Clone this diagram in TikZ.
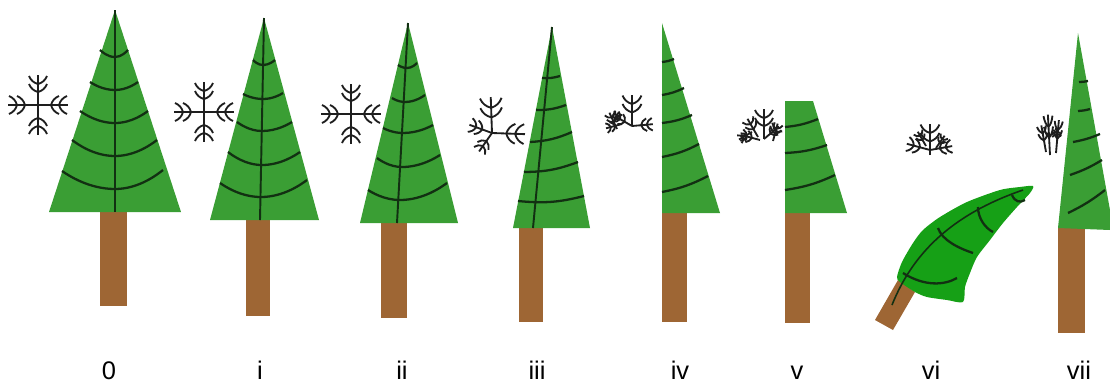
\documentclass[tikz,border=0pt]{standalone}
\usepackage{fontspec}
\setmainfont{Liberation Sans}
\definecolor{needle}{RGB}{58,158,52}
\definecolor{flatneedle}{RGB}{22,160,22}
\definecolor{bark}{RGB}{158,102,52}
\definecolor{vein}{RGB}{18,48,18}
\definecolor{frost}{RGB}{30,30,30}
\tikzset{
  % one arm of a snowflake, pointing along +x, with two pairs of twigs
  flakearm/.pic={
    \draw (0,0) -- (30,0);
    \foreach \d in {13,21}
      \draw (\d+8,-9) to[bend right=25] (\d,0) to[bend right=25] (\d+8,9);
  },
}
\begin{document}
\begin{tikzpicture}[x=0.02cm,y=-0.02cm,
    crown/.style={fill=needle},
    trunk/.style={fill=bark},
    stem/.style={draw=vein,line width=1.1pt},
    branch/.style={draw=vein,line width=1.3pt},
    flake/.style={draw=frost,line width=1.05pt},
    stage/.style={anchor=base,font=\fontsize{14.5}{15}\selectfont}]
  \useasboundingbox (0,0) rectangle (1110,383);

  % 0: healthy tree
  \fill[trunk] (100,212) rectangle (127,306);
  \fill[crown] (115,10) -- (181,212) -- (49,212) -- cycle;
  \draw[stem] (115,10) -- (115,212);
  \draw[branch] (100,50) parabola bend (115,57) (128,50);
  \draw[branch] (90,82) parabola bend (115,90) (138,82);
  \draw[branch] (80,111) parabola bend (115,123) (148,111);
  \draw[branch] (72,140) parabola bend (115,156) (157,140);
  \draw[branch] (62,171) parabola bend (115,189) (163,170);
  \foreach \a in {0,90,180,270}
    \pic[flake,rotate=\a] at (38,105) {flakearm};

  % i
  \fill[trunk] (246,220) rectangle (270,316);
  \fill[crown] (264,18) -- (319,220) -- (210,220) -- cycle;
  \draw[stem] (264,18) -- (260,220);
  \draw[branch] (253,60) parabola bend (263,65) (275,60);
  \draw[branch] (243,94) parabola bend (263,99) (283,93);
  \draw[branch] (237,122) parabola bend (262,131) (292,122);
  \draw[branch] (228,152) parabola bend (262,165) (300,152);
  \draw[branch] (220,183) parabola bend (261,197) (307,180);
  \foreach \a in {0,90,180,270}
    \pic[flake,rotate=\a] at (204,112) {flakearm};

  % ii
  \fill[trunk] (381,223) rectangle (407,318);
  \fill[crown] (408,23) -- (458,223) -- (360,223) -- cycle;
  \draw[stem] (408,23) -- (397,223);
  \draw[branch] (398,65) parabola bend (407,68) (417,63);
  \draw[branch] (392,98) parabola bend (405,102) (425,95);
  \draw[branch] (383,128) parabola bend (403,133) (433,125);
  \draw[branch] (377,158) parabola bend (402,167) (440,155);
  \draw[branch] (368,190) parabola bend (400,200) (447,183);
  \foreach \a in {0,90,180,270}
    \pic[flake,rotate=\a] at (351,114) {flakearm};

  % iii
  \fill[trunk] (519,228) rectangle (543,322);
  \fill[crown] (552,27) -- (590,228) -- (513,228) -- cycle;
  \draw[stem] (552,27) -- (533,228);
  \draw[branch] (542,78) to[bend right=10] (560,76);
  \draw[branch] (536,110) to[bend right=10] (566,105);
  \draw[branch] (530,142) to[bend right=10] (572,132);
  \draw[branch] (524,172) to[bend right=10] (578,162);
  \draw[branch] (518,201) to[bend right=10] (584,196);
  \pic[flake,rotate=92,scale=1.2] at (492,133) {flakearm};
  \pic[flake,rotate=-2,scale=1.1] at (492,133) {flakearm};
  \pic[flake,rotate=160,scale=0.8] at (492,133) {flakearm};
  \pic[flake,rotate=235,scale=0.75] at (492,133) {flakearm};

  % iv
  \fill[trunk] (662,213) rectangle (687,322);
  \fill[crown] (662,23) -- (720,213) -- (662,213) -- cycle;
  \draw[branch] (662,62) to[bend right=8] (674,59);
  \draw[branch] (662,95) to[bend right=8] (684,88);
  \draw[branch] (662,123) to[bend right=8] (692,115);
  \draw[branch] (662,157) to[bend right=8] (699,144);
  \draw[branch] (662,192) to[bend right=8] (708,176);
  \pic[flake,rotate=90,scale=1.05] at (632,126) {flakearm};
  \pic[flake,rotate=5,scale=0.7] at (632,126) {flakearm};
  \pic[flake,rotate=150,scale=0.65] at (632,126) {flakearm};
  \pic[flake,rotate=115,scale=0.6] at (617,129) {flakearm};
  \pic[flake,rotate=195,scale=0.55] at (622,124) {flakearm};
  \pic[flake,rotate=60,scale=0.45] at (612,124) {flakearm};

  % v
  \fill[trunk] (785,213) rectangle (810,323);
  \fill[crown] (785,101) -- (813,101) -- (847,213) -- (785,213) -- cycle;
  \draw[branch] (785,127) to[bend right=8] (818,119);
  \draw[branch] (785,153) to[bend right=8] (827,145);
  \draw[branch] (785,190) to[bend right=8] (835,175);
  \pic[flake,rotate=90,scale=1.0] at (764,139) {flakearm};
  \pic[flake,rotate=40,scale=0.65] at (764,139) {flakearm};
  \pic[flake,rotate=120,scale=0.7] at (758,137) {flakearm};
  \pic[flake,rotate=165,scale=0.65] at (760,140) {flakearm};
  \pic[flake,rotate=75,scale=0.6] at (773,141) {flakearm};
  \pic[flake,rotate=210,scale=0.5] at (752,132) {flakearm};

  % vi: broken and bent over
  \fill[trunk] (875,320) -- (893,330) -- (915,292) -- (898,280) -- cycle;
  \fill[flatneedle] plot[smooth cycle,tension=0.45] coordinates {
    (897,277) (902,262) (913,243) (923,230) (940,217) (967,202)
    (1000,190) (1020,187) (1033,186) (1030,193) (1017,207) (1003,223)
    (990,240) (977,257) (970,273) (965,287) (963,302) (947,300)
    (927,297) (915,292) (900,282)};
  \draw[vein,line width=0.9pt] (892,305) .. controls (912,255) and (950,215) .. (1023,190);
  \draw[branch] (903,273) .. controls (925,287) and (945,285) .. (957,278);
  \draw[branch] (938,228) .. controls (942,240) and (958,248) .. (973,253);
  \draw[branch] (978,207) .. controls (978,218) and (985,228) .. (993,232);
  \draw[branch] (1012,195) .. controls (1015,202) and (1020,203) .. (1025,200);
  \pic[flake,rotate=90,scale=1.05] at (930,155) {flakearm};
  \pic[flake,rotate=10,scale=0.75] at (930,150) {flakearm};
  \pic[flake,rotate=165,scale=0.8] at (930,150) {flakearm};
  \pic[flake,rotate=120,scale=0.55] at (926,146) {flakearm};
  \pic[flake,rotate=55,scale=0.5] at (936,148) {flakearm};

  % vii: flake squashed flat against the trunk
  \fill[trunk] (1058,228) rectangle (1085,333);
  \fill[crown] (1078,33) -- (1110,210) -- (1110,230) -- (1058,228) -- cycle;
  \draw[branch] (1079,82) to[bend right=6] (1088,81);
  \draw[branch] (1078,111) to[bend right=6] (1090,109);
  \draw[branch] (1073,142) to[bend right=6] (1100,134);
  \draw[branch] (1070,175) to[bend right=6] (1102,160);
  \draw[branch] (1068,213) to[bend right=6] (1105,190);
  \pic[flake,rotate=93,xscale=1.35,yscale=0.5] at (1050,155) {flakearm};
  \pic[flake,rotate=85,xscale=1.1,yscale=0.45] at (1056,153) {flakearm};
  \pic[flake,rotate=100,xscale=0.9,yscale=0.5] at (1046,152) {flakearm};
  \pic[flake,rotate=-85,xscale=0.3,yscale=0.5] at (1056,128) {flakearm};

  % stage labels
  \node[stage] (s0) at (109,379) {0};
  \node[stage] (s1) at (260,379) {i};
  \node[stage] (s2) at (402,379) {ii};
  \node[stage] (s3) at (537,379) {iii};
  \node[stage] (s4) at (680,379) {iv};
  \node[stage] (s5) at (797,379) {v};
  \node[stage] (s6) at (931,379) {vi};
  \node[stage] (s7) at (1079,379) {vii};
\end{tikzpicture}
\end{document}
